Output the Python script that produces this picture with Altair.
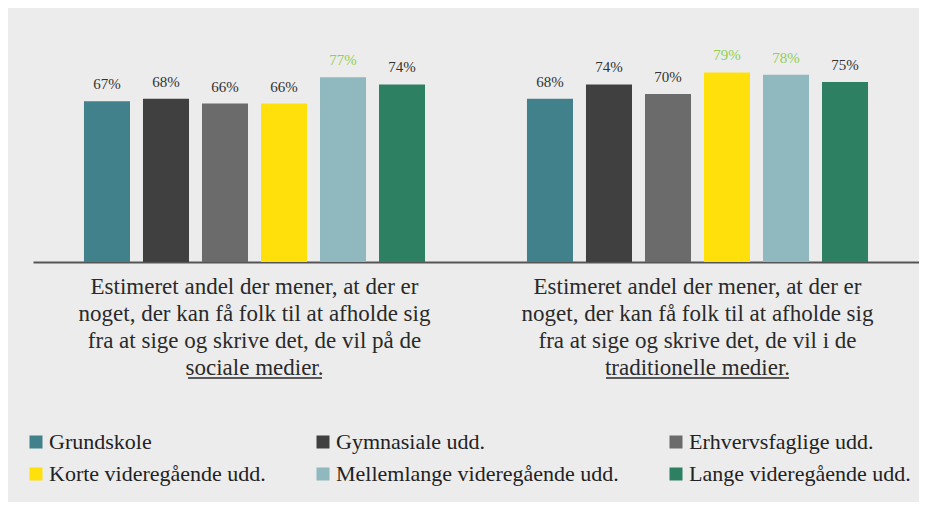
import altair as alt
import pandas as pd

# ---- data ----
education = [
    "Grundskole",
    "Gymnasiale udd.",
    "Erhvervsfaglige udd.",
    "Korte videregående udd.",
    "Mellemlange videregående udd.",
    "Lange videregående udd.",
]
colors = ["#41818b", "#404040", "#6b6b6b", "#ffe00b", "#8fb8bf", "#2e8063"]

group_lines_social = [
    "Estimeret andel der mener, at der er",
    "noget, der kan få folk til at afholde sig",
    "fra at sige og skrive det, de vil på de",
    "sociale medier.",
]
group_lines_trad = [
    "Estimeret andel der mener, at der er",
    "noget, der kan få folk til at afholde sig",
    "fra at sige og skrive det, de vil i de",
    "traditionelle medier.",
]

social = [67, 68, 66, 66, 77, 74]
traditional = [68, 74, 70, 79, 78, 75]
highlight_social = [False, False, False, False, True, False]
highlight_traditional = [False, False, False, True, True, False]

g1 = "|".join(group_lines_social)
g2 = "|".join(group_lines_trad)
groups = [g1, g2]

rows = []
for grp, vals, hls in [(g1, social, highlight_social), (g2, traditional, highlight_traditional)]:
    for e, v, h in zip(education, vals, hls):
        rows.append({"group": grp, "edu": e, "value": v, "hl": h, "label": f"{v}%"})
df = pd.DataFrame(rows)

FONT = "'Liberation Serif', 'DejaVu Serif', serif"

x_enc = alt.X(
    "group:N",
    sort=groups,
    scale=alt.Scale(paddingInner=0, paddingOuter=0),
    axis=alt.Axis(
        title=None,
        ticks=False,
        domain=True,
        domainColor="#555555",
        domainWidth=2,
        labelAngle=0,
        labelExpr="split(datum.label, '|')",
        labelFont=FONT,
        labelFontSize=23,
        labelColor="#2a2a2a",
        labelLineHeight=27,
        labelPadding=13,
        labelBaseline="top",
        labelLimit=0,
    ),
)
xoff = alt.XOffset(
    "edu:N",
    sort=education,
    scale=alt.Scale(paddingInner=0.22, paddingOuter=0.864),
)
y_enc = alt.Y("value:Q", scale=alt.Scale(domain=[0, 100]), axis=None)

bars = alt.Chart(df).mark_bar().encode(
    x=x_enc,
    xOffset=xoff,
    y=y_enc,
    color=alt.Color(
        "edu:N",
        sort=education,
        scale=alt.Scale(domain=education, range=colors),
        legend=alt.Legend(
            title=None,
            orient="none",
            direction="horizontal",
            legendX=-8,
            legendY=409,
            columns=3,
            columnPadding=46,
            rowPadding=10,
            padding=0,
            symbolType="square",
            symbolSize=169,
            symbolStrokeWidth=0,
            labelFont=FONT,
            labelFontSize=22,
            labelColor="#222222",
            labelOffset=2,
            labelLimit=0,
        ),
    ),
)

labels = alt.Chart(df).mark_text(
    font=FONT, fontSize=15, baseline="alphabetic", dy=-12
).encode(
    x=alt.X("group:N", sort=groups),
    xOffset=alt.XOffset("edu:N", sort=education),
    y=alt.Y("value:Q"),
    text="label:N",
    color=alt.condition("datum.hl", alt.value("#92d050"), alt.value("#333333")),
)

# underline decorations under the last line of each category caption
dummy = pd.DataFrame({"d": [0]})
ul1 = alt.Chart(dummy).mark_rule(color="#2a2a2a", strokeWidth=1.3).encode(
    x=alt.value(155), x2=alt.value(289), y=alt.value(356)
)
ul2 = alt.Chart(dummy).mark_rule(color="#2a2a2a", strokeWidth=1.3).encode(
    x=alt.value(573), x2=alt.value(756), y=alt.value(356)
)

chart = (
    alt.layer(bars, labels, ul1, ul2)
    .properties(
        width=886,
        height=240,
        autosize=alt.AutoSizeParams(type="none"),
        padding={"left": 25, "top": 14, "right": 0, "bottom": 240},
        background="#ececec",
    )
    .configure_view(stroke=None)
)

chart.save("out.html", embed_options={"renderer": "svg", "actions": False})
